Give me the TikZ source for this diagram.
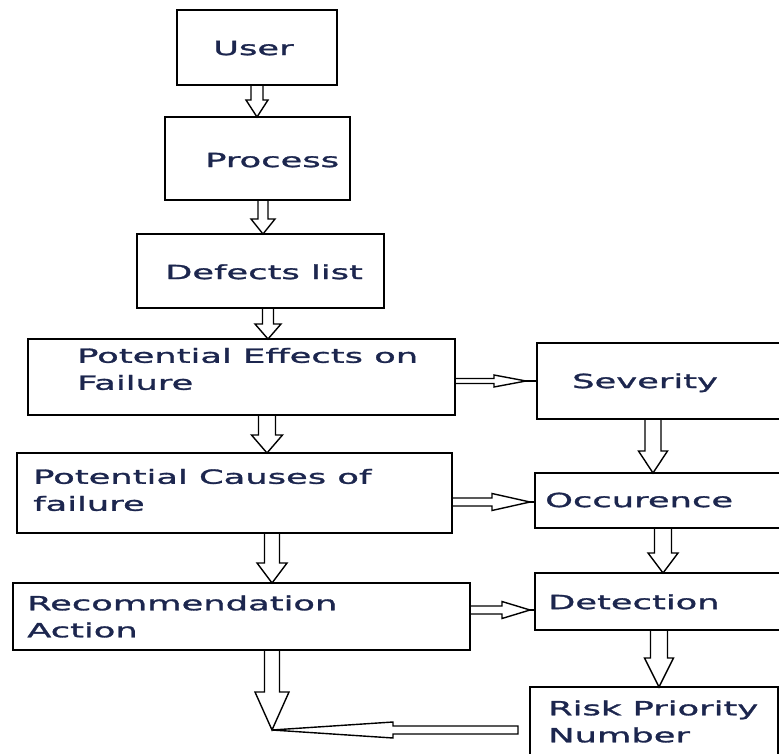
\documentclass[tikz,border=0pt]{standalone}
\usepackage{fontspec}
\setmainfont{DejaVu Sans}[FakeStretch=1.81, FakeBold=1.5]
\usetikzlibrary{calc,backgrounds}
\definecolor{txt}{RGB}{28,38,78}
\tikzset{
  box/.style={draw=black, line width=1.7pt, inner sep=0pt, outer sep=0pt},
  lbl/.style={text=txt, font=\fontsize{19.5}{27}\selectfont, inner sep=0pt, align=left},
  one/.style={lbl, text height=14.2pt, text depth=0pt, anchor=west},
  barrow/.style={draw=black, fill=white, line width=1.4pt, line join=miter},
  plainline/.style={draw=black, line width=1.4pt}
}
% #1 from, #2 to, #3 half shaft width, #4 half head width, #5 head length
\newcommand\blockarr[5]{%
  \path #1 coordinate (ba-s);
  \path #2 coordinate (ba-t);
  \path ($(ba-t)!#5!(ba-s)$) coordinate (ba-h);
  \draw[barrow] ($(ba-s)!#3!90:(ba-t)$) -- ($(ba-h)!#3!90:(ba-t)$)
     -- ($(ba-h)!#4!90:(ba-t)$) -- (ba-t) -- ($(ba-h)!#4!-90:(ba-t)$)
     -- ($(ba-h)!#3!-90:(ba-t)$) -- ($(ba-s)!#3!-90:(ba-t)$) -- cycle;
}
\begin{document}
\begin{tikzpicture}[x=1pt, y=-1pt]
\useasboundingbox (0,0) rectangle (779,754);
\clip (0,0) rectangle (779,754);

% boxes
\node[box, minimum width=160pt, minimum height=75pt] (user) at (257,47.5) {};
\node[box, minimum width=185pt, minimum height=83pt] (proc) at (257.5,158.5) {};
\node[box, minimum width=247pt, minimum height=74pt] (def) at (260.5,271) {};
\node[box, minimum width=427pt, minimum height=76pt] (eff) at (241.5,377) {};
\node[box, minimum width=253pt, minimum height=76pt] (sev) at (663.5,381) {};
\node[box, minimum width=435pt, minimum height=80pt] (cau) at (234.5,493) {};
\node[box, minimum width=255pt, minimum height=55pt] (occ) at (662.5,500.5) {};
\node[box, minimum width=457pt, minimum height=67pt] (rec) at (241.5,616.5) {};
\node[box, minimum width=255pt, minimum height=57pt] (det) at (662.5,601.5) {};
\node[box, minimum width=248pt, minimum height=83pt] (risk) at (654,728.5) {};

% texts
\node[one] (user-t) at (213,48) {User};
\node[one] (proc-t) at (205,160) {Process};
\node[one] (def-t) at (165,272) {Defects list};
\node[lbl, anchor=west] (eff-t) at (77,369) {Potential Effects on\\Failure};
\node[one] (sev-t) at (572,381) {Severity};
\node[lbl, anchor=west] (cau-t) at (33,490) {Potential Causes of\\failure};
\node[one] (occ-t) at (545,500) {Occurence};
\node[lbl, anchor=west] (rec-t) at (27,616.5) {Recommendation\\Action};
\node[one] (det-t) at (548,602) {Detection};
\node[lbl, anchor=west] (risk-t) at (548,721.5) {Risk Priority\\Number};

% free ends
\coordinate (t-sev) at (526,381);
\coordinate (t-occ) at (530,502);
\coordinate (t-det) at (530,610);
\coordinate (merge) at (272,730);
\coordinate (r-out) at (518,730);

\begin{pgfonlayer}{background}
\blockarr{(257,0 |- user.south)}{(257,0 |- proc.north)}{6pt}{11pt}{17pt}
\blockarr{(263,0 |- proc.south)}{(263,0 |- def.north)}{5pt}{12pt}{15pt}
\blockarr{(268,0 |- def.south)}{(268,0 |- eff.north)}{5.5pt}{13pt}{15pt}
\blockarr{(267,0 |- eff.south)}{(267,0 |- cau.north)}{8.5pt}{15.5pt}{18pt}
\blockarr{(272,0 |- cau.south)}{(272,0 |- rec.north)}{7.5pt}{15pt}{20pt}
\blockarr{(272,0 |- rec.south)}{(merge)}{7.5pt}{17pt}{38pt}
\blockarr{(653,0 |- sev.south)}{(653,0 |- occ.north)}{8pt}{14.5pt}{22pt}
\blockarr{(663,0 |- occ.south)}{(663,0 |- det.north)}{8.5pt}{15pt}{20pt}
\blockarr{(659,0 |- det.south)}{(659,0 |- risk.north)}{8.5pt}{14.5pt}{29pt}
\blockarr{(eff.east |- t-sev)}{(t-sev)}{2.5pt}{6pt}{32pt}
\draw[plainline] (t-sev) -- (sev.west |- t-sev);
\blockarr{(cau.east |- t-occ)}{(t-occ)}{4pt}{8.5pt}{38pt}
\draw[plainline] (t-occ) -- (occ.west |- t-occ);
\blockarr{(rec.east |- t-det)}{(t-det)}{4pt}{8.5pt}{28pt}
\draw[plainline] (t-det) -- (det.west |- t-det);
\blockarr{(r-out)}{(merge)}{4pt}{8pt}{121pt}
\end{pgfonlayer}
\end{tikzpicture}
\end{document}
